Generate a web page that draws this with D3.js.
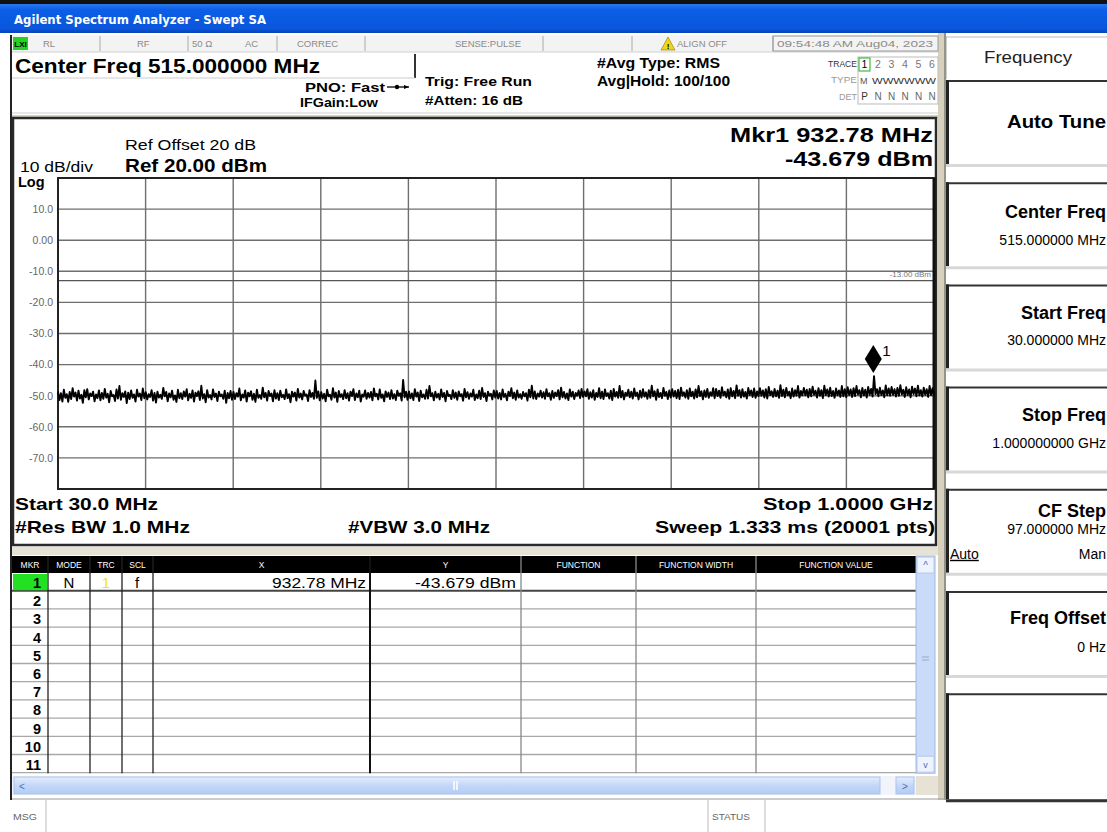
<!DOCTYPE html>
<html><head><meta charset="utf-8">
<script src="https://cdn.jsdelivr.net/npm/d3@7"></script>
<style>
html,body{margin:0;padding:0;background:#fff;}
svg{display:block;font-family:"Liberation Sans",Arial,sans-serif;}
</style></head><body>
<svg id="c" width="1107" height="832"></svg>
<script>
// ---------------- DATA ----------------
const startFreqMHz = 30, stopFreqMHz = 1000;
const refLevelDbm = 20, dbPerDiv = 10, numDivs = 10;
const yTickValues = [10, 0, -10, -20, -30, -40, -50, -60, -70];
const yTickLabels = ["10.0", "0.00", "-10.0", "-20.0", "-30.0", "-40.0", "-50.0", "-60.0", "-70.0"];
const displayLineDbm = [-13];
const displayLineLabel = ["-13.00 dBm"];
const markerFreqMHz = [932.78];
const markerLevelDbm = [-43.679];
const markerNames = ["1"];
// trace amplitude (dBm) read across the sweep, 30 MHz -> 1 GHz
const traceDbm = [
-48.6,-51.4,-49.2,-51.9,-48.1,-50.7,-49.5,-52.0,-48.8,-51.1,-47.6,-50.3,-49.0,-51.6,-48.4,-50.9,-49.7,-52.3,-48.2,-50.5,-47.9,-51.2,-49.3,-50.1,-48.7,-51.8,-49.6,-50.8,-48.3,-51.5,
-49.1,-51.0,-47.8,-50.6,-49.4,-52.1,-48.5,-50.2,-49.8,-51.7,-48.0,-50.9,-46.9,-51.3,-49.2,-50.4,-48.6,-52.4,-49.0,-51.1,-48.3,-50.7,-49.6,-51.9,-48.1,-50.3,-49.3,-51.4,-47.7,-50.8,
-48.9,-51.2,-49.5,-50.4,-48.2,-51.6,-49.1,-52.2,-48.7,-50.6,-49.7,-51.0,-47.5,-50.2,-48.8,-51.8,-49.3,-50.5,-48.4,-51.3,-49.9,-52.0,-48.1,-50.8,-49.2,-51.1,-48.6,-50.3,-47.9,-51.5,
-49.4,-50.7,-48.3,-51.9,-49.0,-50.1,-48.6,-51.4,-46.8,-50.9,-49.5,-52.1,-48.2,-50.6,-49.8,-51.2,-48.0,-50.4,-49.3,-51.7,-48.7,-50.2,-49.6,-51.0,-48.4,-52.3,-49.1,-50.8,-48.5,-51.3,
-48.8,-51.1,-49.2,-50.3,-47.7,-51.5,-49.6,-50.6,-48.3,-51.9,-49.0,-50.2,-48.6,-51.3,-49.4,-52.0,-48.1,-50.7,-49.8,-51.0,-47.4,-50.5,-49.1,-51.6,-48.5,-50.1,-49.3,-51.8,-48.2,-50.9,
-49.2,-51.4,-48.4,-50.5,-49.7,-51.1,-48.0,-50.8,-49.5,-52.1,-48.7,-50.3,-49.0,-51.6,-47.8,-50.6,-49.3,-51.2,-48.5,-50.0,-49.6,-51.7,-48.2,-50.4,-49.1,-51.0,-45.1,-50.7,-48.6,-51.5,
-48.9,-50.9,-49.4,-51.8,-48.1,-50.2,-49.7,-51.3,-47.6,-50.6,-49.0,-52.0,-48.5,-50.4,-49.5,-51.1,-48.2,-50.8,-49.2,-51.6,-48.7,-50.1,-47.9,-51.4,-49.3,-50.5,-48.4,-51.9,-49.6,-50.3,
-48.3,-51.0,-49.1,-50.6,-48.8,-51.5,-47.7,-50.2,-49.4,-51.2,-48.0,-50.7,-49.6,-51.8,-48.6,-50.4,-49.0,-51.1,-48.2,-50.9,-49.5,-51.4,-48.4,-50.0,-49.2,-51.6,-44.9,-50.5,-48.7,-51.3,
-48.6,-50.8,-49.3,-51.4,-47.9,-50.3,-49.0,-51.7,-48.4,-50.5,-49.6,-51.0,-48.1,-50.9,-46.9,-50.2,-49.2,-51.5,-48.7,-50.6,-49.4,-51.2,-48.0,-50.4,-49.1,-51.8,-48.5,-50.1,-49.7,-51.1,
-48.2,-50.7,-49.0,-51.3,-48.6,-50.2,-49.5,-51.6,-47.8,-50.5,-48.9,-51.0,-49.3,-50.3,-48.1,-51.4,-49.6,-50.8,-48.4,-51.1,-47.5,-50.4,-49.2,-51.7,-48.7,-50.0,-49.4,-51.2,-48.3,-50.6,
-48.5,-50.9,-49.1,-51.2,-48.0,-50.4,-49.4,-51.5,-48.7,-50.1,-47.6,-50.8,-49.0,-51.3,-48.3,-50.6,-49.5,-51.0,-48.8,-50.2,-49.2,-51.6,-48.1,-50.5,-46.8,-50.9,-48.6,-51.1,-49.3,-50.3,
-48.4,-50.6,-48.9,-51.0,-47.9,-50.2,-49.2,-51.3,-48.5,-50.7,-49.0,-50.1,-48.2,-51.2,-47.4,-50.5,-48.8,-50.9,-49.3,-51.4,-48.0,-50.3,-48.7,-51.1,-49.1,-50.0,-48.3,-50.8,-47.8,-50.4,
-48.6,-50.2,-47.9,-51.0,-48.9,-50.6,-48.2,-51.3,-49.1,-50.4,-47.6,-50.8,-48.7,-51.1,-48.0,-50.1,-49.2,-50.9,-48.4,-51.4,-47.8,-50.3,-48.8,-50.7,-46.9,-50.5,-48.5,-51.2,-49.0,-50.0,
-48.1,-50.5,-48.7,-50.9,-47.7,-50.1,-49.0,-51.2,-48.4,-50.6,-47.9,-50.3,-48.9,-51.0,-48.2,-50.7,-46.8,-50.2,-48.6,-51.3,-48.0,-50.4,-49.1,-50.8,-47.5,-50.0,-48.8,-51.1,-48.3,-50.6,
-47.9,-50.3,-48.5,-50.8,-48.1,-51.1,-47.4,-50.0,-48.9,-50.6,-48.2,-51.0,-47.7,-50.2,-48.7,-50.9,-48.0,-50.5,-46.9,-50.1,-48.6,-51.2,-48.3,-50.4,-47.8,-50.7,-48.9,-50.0,-47.6,-50.8,
-47.8,-50.1,-48.4,-50.7,-47.3,-49.9,-48.7,-50.5,-48.0,-51.0,-47.6,-50.2,-48.5,-50.8,-46.7,-50.0,-48.2,-50.6,-47.9,-50.3,-48.8,-50.9,-47.5,-49.8,-48.3,-50.4,-47.7,-50.7,-48.6,-50.1,
-47.6,-50.0,-48.3,-50.6,-47.9,-50.9,-47.2,-49.8,-48.6,-50.4,-47.8,-50.2,-48.4,-50.7,-46.6,-50.1,-48.1,-50.5,-47.5,-49.9,-48.7,-50.8,-47.7,-50.3,-48.2,-50.0,-46.9,-50.6,-48.5,-49.9,
-47.5,-49.9,-48.1,-50.5,-47.8,-50.2,-47.1,-49.7,-48.4,-50.6,-47.6,-50.0,-48.2,-50.8,-46.8,-49.8,-48.0,-50.3,-47.4,-50.1,-48.5,-50.7,-47.7,-49.9,-48.3,-50.4,-46.9,-50.2,-47.9,-50.5,
-47.3,-49.8,-48.0,-50.4,-47.6,-50.1,-46.9,-49.6,-48.2,-50.5,-47.5,-49.9,-48.1,-50.6,-47.2,-49.7,-47.8,-50.3,-43.7,-49.5,-47.9,-50.2,-47.4,-49.8,-48.3,-50.5,-46.7,-49.9,-47.7,-50.0,
-47.2,-49.7,-47.9,-50.3,-47.5,-50.0,-46.6,-49.6,-48.1,-50.4,-47.3,-49.8,-48.0,-50.5,-47.1,-49.5,-47.7,-50.2,-46.8,-49.9,-48.2,-50.3,-47.4,-49.7,-47.9,-50.4,-46.9,-49.8,-47.6,-50.1
];
const statusItems = ["RL", "RF", "50 Ω", "AC", "CORREC", "SENSE:PULSE", "ALIGN OFF", "09:54:48 AM Aug04, 2023"];
const softkeyTitles = ["Auto Tune", "Center Freq", "Start Freq", "Stop Freq", "CF Step", "Freq Offset", ""];
const softkeyValues = ["", "515.000000 MHz", "30.000000 MHz", "1.000000000 GHz", "97.000000 MHz", "0 Hz", ""];
const tableHeaders = ["MKR", "MODE", "TRC", "SCL", "X", "Y", "FUNCTION", "FUNCTION WIDTH", "FUNCTION VALUE"];
const tableRowIds = ["1","2","3","4","5","6","7","8","9","10","11"];
const markerRow = ["1", "N", "1", "f", "932.78 MHz", "-43.679 dBm"];

// ---------------- DRAW ----------------
const svg = d3.select("#c");
const W = 1107, H = 832;
const defs = svg.append("defs");
const tg = defs.append("linearGradient").attr("id","tb").attr("x1",0).attr("x2",0).attr("y1",0).attr("y2",1);
tg.append("stop").attr("offset","0").attr("stop-color","#2a78f0");
tg.append("stop").attr("offset","0.2").attr("stop-color","#0b5fe6");
tg.append("stop").attr("offset","0.85").attr("stop-color","#0a56dc");
tg.append("stop").attr("offset","1").attr("stop-color","#0744b8");
const sg = defs.append("linearGradient").attr("id","sb").attr("x1",0).attr("x2",0).attr("y1",0).attr("y2",1);
sg.append("stop").attr("offset","0").attr("stop-color","#e4edfd");
sg.append("stop").attr("offset","0.5").attr("stop-color","#c4d7f8");
sg.append("stop").attr("offset","1").attr("stop-color","#b4cbf3");

function rect(x,y,w,h,fill,stroke,sw){
  return svg.append("rect").attr("x",x).attr("y",y).attr("width",w).attr("height",h)
    .attr("fill",fill||"none").attr("stroke",stroke||"none").attr("stroke-width",sw||1);
}
function line(x1,y1,x2,y2,stroke,sw){
  return svg.append("line").attr("x1",x1).attr("y1",y1).attr("x2",x2).attr("y2",y2)
    .attr("stroke",stroke).attr("stroke-width",sw||1);
}
function text(x,y,s,size,opts){
  opts = opts||{};
  const t = svg.append("text").attr("x",x).attr("y",y).text(s)
    .attr("font-size",size).attr("fill",opts.fill||"#000")
    .attr("font-weight",opts.bold?"bold":"normal")
    .attr("text-anchor",opts.anchor||"start");
  if (opts.family) t.attr("font-family",opts.family);
  if (opts.len) t.attr("textLength",opts.len).attr("lengthAdjust","spacingAndGlyphs");
  return t;
}

// window chrome
rect(0,0,W,H,"#ffffff");
rect(0,0,W,4,"#101010");
rect(0,4,W,29,"url(#tb)");
text(14,24,"Agilent Spectrum Analyzer - Swept SA",12.5,{fill:"#fff",bold:true,family:"DejaVu Sans",len:252});

// beige frame strips
rect(938,33,8,767,"#d6d0bd");
line(945,33,945,800,"#555",1);
line(11,35,11,800,"#222",2);

// status row
rect(12,35,926,17,"#f3f3f3");
line(12,52,938,52,"#cfcfcf",1);
[100,188,277,365,543,632,773].forEach(sx => line(sx,36,sx,51,"#aaa",1));
rect(13,37,15,13,"#22d322");
text(20.5,47,"LXI",8,{bold:true,anchor:"middle",fill:"#000"});
const statusX = [43,137,192,245,297,455,677,777];
statusItems.forEach((s,i)=> text(statusX[i],47,s,9.5,{fill:"#8a8a8a",len: i===7?156:undefined}));
svg.append("path").attr("d","M661,50 L668,37 L675,50 Z").attr("fill","#f3d615").attr("stroke","#8a7a00").attr("stroke-width",0.6);
text(668,49,"!",8,{bold:true,anchor:"middle"});
rect(773,36,165,15,"none","#9a9a9a",1);

// Center freq line
rect(12,54,403,23,"#fff");
line(415,54,415,78,"#333",2);
line(12,78,415,78,"#cccccc",1);
text(15,73,"Center Freq 515.000000 MHz",20,{bold:true,len:305});
text(305,92,"PNO: Fast",12,{bold:true,len:80});
line(387,87,409,87,"#000",1.3);
svg.append("circle").attr("cx",397).attr("cy",87).attr("r",2.2).attr("fill","#000");
svg.append("path").attr("d","M409,87 L404,85 L404,89 Z").attr("fill","#000");
text(300,107,"IFGain:Low",12,{bold:true,len:78});
text(425,86,"Trig: Free Run",13.5,{bold:true,len:107});
text(425,105,"#Atten: 16 dB",12,{bold:true,len:98});
text(597,68,"#Avg Type: RMS",14,{bold:true,len:123});
text(597,86,"Avg|Hold: 100/100",14,{bold:true,len:133});
text(857,67,"TRACE",8.5,{anchor:"end",fill:"#333",len:29});
text(857,83,"TYPE",8.5,{anchor:"end",fill:"#999",len:26});
text(857,100,"DET",8.5,{anchor:"end",fill:"#999",len:18});
rect(858,57,80,47,"#fff","#bbb",1);
rect(859,58,11,13,"none","#3cbf3c",1.2);
const traceNums = ["1","2","3","4","5","6"];
traceNums.forEach((s,i)=> text(864.5+i*13.5,68,s,10.5,{anchor:"middle",fill:i===0?"#000":"#777"}));
text(860,84,"M",9,{fill:"#555"});
text(872,84,"WWWWWW",9,{fill:"#333",len:64});
const detLetters = ["P","N","N","N","N","N"];
detLetters.forEach((s,i)=> text(864.5+i*13.5,100,s,10,{anchor:"middle",fill:i===0?"#333":"#666"}));
line(12,113,938,113,"#cfcfcf",1.2);

// ---------------- plot frame ----------------
rect(12,115,926,3,"#d8d3c3");
rect(13,118,923,427,"#fff","#2a2a2a",2.5);
text(125,150,"Ref Offset 20 dB",14,{len:131});
text(20,172,"10 dB/div",14,{len:73});
text(125,172,"Ref 20.00 dBm",17.5,{bold:true,len:142});
text(18,187,"Log",14.5,{bold:true});
text(933,142,"Mkr1 932.78 MHz",20.5,{bold:true,anchor:"end",len:203});
text(933,166,"-43.679 dBm",20.5,{bold:true,anchor:"end",len:148});

const pLeft = 58, pRight = 934, pTop = 178, pBottom = 489;
const x = d3.scaleLinear().domain([startFreqMHz, stopFreqMHz]).range([pLeft, pRight]);
const y = d3.scaleLinear().domain([refLevelDbm - dbPerDiv*numDivs, refLevelDbm]).range([pBottom, pTop]);
const idx = d3.scaleLinear().domain([0, traceDbm.length - 1]).range([startFreqMHz, stopFreqMHz]);

const gridG = svg.append("g");
const xDivs = d3.range(1, numDivs).map(k => startFreqMHz + k*(stopFreqMHz-startFreqMHz)/numDivs);
gridG.selectAll("line.vx").data(xDivs).join("line")
  .attr("x1", d=>x(d)).attr("x2", d=>x(d)).attr("y1", pTop).attr("y2", pBottom)
  .attr("stroke", "#6e6e6e").attr("stroke-width", 1.4);
gridG.selectAll("line.hy").data(yTickValues).join("line")
  .attr("x1", pLeft).attr("x2", pRight).attr("y1", d=>y(d)).attr("y2", d=>y(d))
  .attr("stroke", "#6e6e6e").attr("stroke-width", 1.4);
const dlG = svg.append("g");
dlG.selectAll("line").data(displayLineDbm).join("line")
  .attr("x1", pLeft).attr("x2", pRight).attr("y1", d=>y(d)).attr("y2", d=>y(d))
  .attr("stroke", "#555").attr("stroke-width", 1.4);
dlG.selectAll("text").data(displayLineDbm).join("text")
  .attr("x", pRight-3).attr("y", d=>y(d)-4).attr("text-anchor","end")
  .attr("font-size",8).attr("fill","#777").text((d,i)=>displayLineLabel[i]);
rect(pLeft, pTop, pRight-pLeft, pBottom-pTop, "none", "#222", 2);
line(pRight, pTop, pRight, pBottom, "#111", 3);

const yAxis = d3.axisLeft(y).tickValues(yTickValues).tickFormat((d,i)=>yTickLabels[i]).tickSize(0).tickPadding(5);
const ya = svg.append("g").attr("transform",`translate(${pLeft},0)`).call(yAxis);
ya.select(".domain").remove();
ya.selectAll("text").attr("font-size",10.5).attr("fill","#666").attr("font-family","Liberation Sans, Arial, sans-serif");

const traceLine = d3.line().x((d,i)=>x(idx(i))).y(d=>y(d));
svg.append("path").datum(traceDbm).attr("d", traceLine)
  .attr("fill","none").attr("stroke","#000").attr("stroke-width",1.9).attr("stroke-linejoin","round");

markerFreqMHz.forEach((f,i)=>{
  const mx = x(f), my = y(markerLevelDbm[i]);
  const cy = my - 17;
  svg.append("path").attr("d",`M${mx},${cy-14} L${mx+8.5},${cy} L${mx},${cy+14} L${mx-8.5},${cy} Z`).attr("fill","#000");
  text(mx+9, cy-3, markerNames[i], 15);
});

text(15,510,"Start 30.0 MHz",17,{bold:true,len:143});
text(933,510,"Stop 1.0000 GHz",17,{bold:true,anchor:"end",len:170});
text(15,533,"#Res BW 1.0 MHz",17,{bold:true,len:175});
text(348,533,"#VBW 3.0 MHz",17,{bold:true,len:142});
text(935,533,"Sweep  1.333 ms (20001 pts)",17,{bold:true,anchor:"end",len:280});

// ---------------- marker table ----------------
rect(12,547,926,8,"#e6e2d6");
const colX = [12,48,90,122,153,370,521,636,756,916];
const tTop = 556, hdrH = 17, rowH = 18.2, nRows = tableRowIds.length;
const tBottom = tTop + hdrH + rowH*nRows;
rect(12,tTop,904,hdrH,"#000");
tableHeaders.forEach((h,i)=> text((colX[i]+colX[i+1])/2, tTop+12, h, 8.5, {fill:"#fff",anchor:"middle"}));
for (let r=0;r<nRows;r++){
  const yb = tTop+hdrH+rowH*(r+1);
  line(12, yb-0.5, 916, yb-0.5, r===0?"#444":"#a8a8a8", r===0?2:1.3);
}
colX.slice(1,-1).forEach((cx,i)=>{
  line(cx, tTop, cx, tBottom, i<4?"#222":(i===4?"#111":"#888"), i===4?2:1.3);
});
tableRowIds.forEach((id,r)=>{
  const yc = tTop+hdrH+rowH*r;
  if (r===0) rect(13, yc+1, 34, rowH-2, "#22e022");
  text(41, yc+15, id, 14.5, {bold:true,anchor:"end"});
});
const r1 = tTop+hdrH;
text(69, r1+15, markerRow[1], 15, {anchor:"middle"});
text(106, r1+15, markerRow[2], 15, {anchor:"middle",fill:"#f2e800"});
text(137, r1+15, markerRow[3], 15, {anchor:"middle"});
text(366, r1+15, markerRow[4], 15, {anchor:"end",len:94});
text(516, r1+15, markerRow[5], 15, {anchor:"end",len:101});
rect(916,tTop,19,tBottom-tTop,"#c9dbf8","#9db8e6",1);
rect(917,tTop+1,17,16,"#eef3fd","#b5c8ea",1);
text(925.5,tTop+13,"^",10,{anchor:"middle",fill:"#4a6fb0"});
rect(917,tBottom-17,17,16,"#eef3fd","#b5c8ea",1);
text(925.5,tBottom-5,"v",9,{anchor:"middle",fill:"#4a6fb0"});
line(922,657,929,657,"#9ab",1); line(922,660,929,660,"#9ab",1);
rect(12,776,904,19,"#f1f4fb");
rect(14,777,866,17,"url(#sb)","#a9c2ee",1);
text(19,790,"<",10,{fill:"#4a6fb0"});
rect(896,777,18,17,"url(#sb)","#a9c2ee",1);
text(902,790,">",10,{fill:"#4a6fb0"});
line(454,781,454,790,"#fff",1.5); line(457,781,457,790,"#fff",1.5);
rect(916,776,22,19,"#e6e2d6");

// status bar
line(12,799,W,799,"#999",1.2);
rect(12,800,W-12,32,"#fff");
line(46,800,46,832,"#bbb",1);
line(708,800,708,832,"#bbb",1);
line(765,800,765,832,"#bbb",1);
text(13,820,"MSG",9,{fill:"#666",len:24});
text(712,820,"STATUS",9,{fill:"#666",len:38});

// ---------------- softkey panel ----------------
rect(946,37,W-946,42,"#fff");
line(946,37,W,37,"#bbb",1);
line(946,37,946,79,"#999",1);
text(1028,63,"Frequency",16,{anchor:"middle",fill:"#222",len:88});
const skTop = 80, skPitch = 102.2, skH = 84;
softkeyTitles.forEach((t,i)=>{
  const y0 = skTop + i*skPitch;
  const h = i===softkeyTitles.length-1 ? 106 : skH;
  rect(946,y0,W-946,h,"#fff");
  line(946,y0+1,W,y0+1,"#333",2);
  line(947.5,y0,947.5,y0+h,"#222",3);
  line(946,y0+h+1.5,W,y0+h+1.5,i===softkeyTitles.length-1?"#333":"#d8d8d8",3);
  if (!t) return;
  if (i===0) { text(1106,y0+48,t,18.5,{bold:true,anchor:"end",len:99}); return; }
  if (i===4) {
    text(1106,y0+28,t,18,{bold:true,anchor:"end"});
    text(1106,y0+45,softkeyValues[i],14,{anchor:"end"});
    text(950,y0+70,"Auto",14).attr("text-decoration","underline");
    text(1106,y0+70,"Man",14,{anchor:"end"});
    return;
  }
  const tOff = [0,36,35,34,0,33][i], vOff = [0,63,61,61,0,61][i];
  text(1106,y0+tOff,t,18,{bold:true,anchor:"end"});
  text(1106,y0+vOff,softkeyValues[i],14,{anchor:"end"});
});
</script></body></html>
